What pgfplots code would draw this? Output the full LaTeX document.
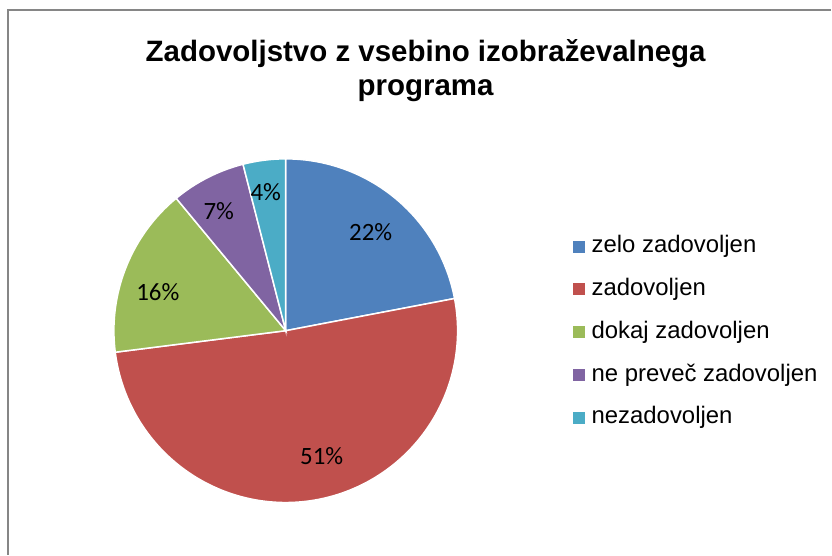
\documentclass[border=0pt]{standalone}
\usepackage{pgfplots}
\pgfplotsset{compat=1.18}
\usepackage{fontspec}
\setmainfont{Liberation Sans}
\newfontfamily\calibri{Carlito}
\definecolor{cA}{HTML}{4F81BD}
\definecolor{cB}{HTML}{C0504D}
\definecolor{cC}{HTML}{9BBB59}
\definecolor{cD}{HTML}{8064A2}
\definecolor{cE}{HTML}{4BACC6}
\definecolor{frame}{HTML}{868686}
\begin{document}
\begin{tikzpicture}
% shares in percent
\def\vA{22}\def\vB{51}\def\vC{16}\def\vD{7}\def\vE{4}
\pgfmathsetmacro\aA{90}
\pgfmathsetmacro\aB{\aA-3.6*\vA}
\pgfmathsetmacro\aC{\aB-3.6*\vB}
\pgfmathsetmacro\aD{\aC-3.6*\vC}
\pgfmathsetmacro\aE{\aD-3.6*\vD}
\pgfmathsetmacro\aF{\aE-3.6*\vE}
\def\cx{286}\def\cy{224}\def\R{172}
\begin{axis}[
  width=832bp, height=555bp, scale only axis,
  xmin=0, xmax=832, ymin=0, ymax=555,
  hide axis, clip=false,
  every axis plot/.append style={draw=white, line width=1.5bp, variable=\t, samples=120},
]
\path (axis cs:0,0) rectangle (axis cs:832,555);
\draw[frame, line width=1.5bp] (axis cs:8,0) -- (axis cs:8,545) -- (axis cs:832,545);
\addplot[fill=cA, domain=\aB:\aA] ({\cx+\R*cos(\t)},{\cy+\R*sin(\t)}) -- (axis cs:\cx,\cy) -- cycle;
\addplot[fill=cB, domain=\aC:\aB] ({\cx+\R*cos(\t)},{\cy+\R*sin(\t)}) -- (axis cs:\cx,\cy) -- cycle;
\addplot[fill=cC, domain=\aD:\aC] ({\cx+\R*cos(\t)},{\cy+\R*sin(\t)}) -- (axis cs:\cx,\cy) -- cycle;
\addplot[fill=cD, domain=\aE:\aD] ({\cx+\R*cos(\t)},{\cy+\R*sin(\t)}) -- (axis cs:\cx,\cy) -- cycle;
\addplot[fill=cE, domain=\aF:\aE] ({\cx+\R*cos(\t)},{\cy+\R*sin(\t)}) -- (axis cs:\cx,\cy) -- cycle;
% data labels
\begin{scope}[every node/.style={font=\calibri\fontsize{25}{30}\selectfont, inner sep=0pt}]
\node at (axis cs:371,{555-232}) {\vA\%};
\node at (axis cs:322,{555-457}) {\vB\%};
\node at (axis cs:158,{555-292}) {\vC\%};
\node at (axis cs:219,{555-211}) {\vD\%};
\node at (axis cs:266,{555-192}) {\vE\%};
\end{scope}
% title
\node[anchor=north, align=center, inner sep=0pt, font=\bfseries\fontsize{29.6}{34.5}\selectfont]
  at (axis cs:426,{555-39}) {Zadovoljstvo z vsebino izobraževalnega\\programa};
% legend
\begin{scope}[every node/.style={anchor=base west, inner sep=0pt, font=\fontsize{24}{28}\selectfont}]
\fill[cA] (axis cs:574,{555-247-6}) rectangle (axis cs:586,{555-247+6});
\node at (axis cs:592,{555-247-6.2}) {zelo zadovoljen};
\fill[cB] (axis cs:574,{555-289.75-6}) rectangle (axis cs:586,{555-289.75+6});
\node at (axis cs:592,{555-289.75-6.2}) {zadovoljen};
\fill[cC] (axis cs:574,{555-332.5-6}) rectangle (axis cs:586,{555-332.5+6});
\node at (axis cs:592,{555-332.5-6.2}) {dokaj zadovoljen};
\fill[cD] (axis cs:574,{555-375.25-6}) rectangle (axis cs:586,{555-375.25+6});
\node at (axis cs:592,{555-375.25-6.2}) {ne preveč zadovoljen};
\fill[cE] (axis cs:574,{555-418-6}) rectangle (axis cs:586,{555-418+6});
\node at (axis cs:592,{555-418-6.2}) {nezadovoljen};
\end{scope}
\end{axis}
\end{tikzpicture}
\end{document}
